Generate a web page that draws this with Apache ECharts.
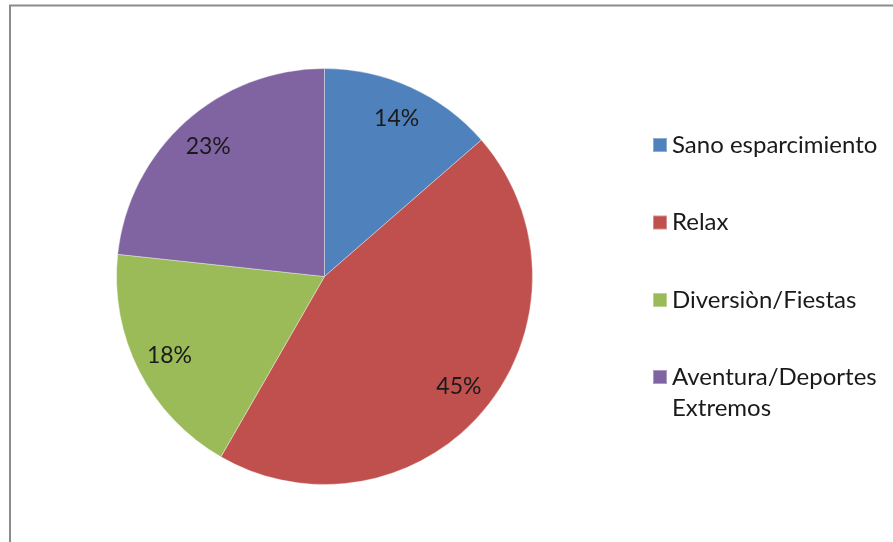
<!DOCTYPE html>
<html>
<head>
<meta charset="utf-8">
<script src="https://cdn.jsdelivr.net/npm/echarts@6/dist/echarts.min.js"></script>
<style>
html, body { margin: 0; padding: 0; background: #fff; }
#chart { width: 893px; height: 542px; }
</style>
</head>
<body>
<div id="chart"></div>
<script>
var categories = ['Sano esparcimiento', 'Relax', 'Diversiòn/Fiestas', 'Aventura/Deportes Extremos'];
// shares; labels round them to whole percents
var values = [13.6, 44.7, 18.4, 23.3];
var colors = ['#4F81BD', '#C0504D', '#9BBB59', '#8064A2'];

var pieData = categories.map(function (name, i) {
    return { name: name, value: values[i], itemStyle: { color: colors[i] } };
});
// same values, only used to carry the % labels further out than 'inside' puts them
var labelData = categories.map(function (name, i) {
    return { name: name, value: values[i] };
});

var chart = echarts.init(document.getElementById('chart'));
chart.setOption({
    animation: false,
    textStyle: { fontFamily: 'Lato' },
    graphic: [
        {
            type: 'rect',
            shape: { x: 10, y: 5.5, width: 1000, height: 700 },
            style: { fill: 'none', stroke: '#8c8c8c', lineWidth: 2 },
            silent: true
        }
    ],
    legend: [
        {
            data: categories.slice(0, 3),
            orient: 'vertical',
            left: 652,
            top: 131,
            padding: 0,
            itemWidth: 14,
            itemHeight: 14,
            itemGap: 49.5,
            icon: 'rect',
            selectedMode: false,
            textStyle: { fontFamily: 'Lato', fontSize: 24, color: '#1a1a1a', lineHeight: 28 }
        },
        {
            data: categories.slice(3),
            orient: 'vertical',
            left: 652,
            top: 330.5,
            padding: 0,
            itemWidth: 14,
            itemHeight: 14,
            icon: 'rect',
            selectedMode: false,
            formatter: function () {
                return '\nAventura/Deportes\nExtremos';
            },
            textStyle: { fontFamily: 'Lato', fontSize: 24, color: '#1a1a1a', lineHeight: 31 }
        }
    ],
    series: [
        {
            type: 'pie',
            center: [324.5, 276.5],
            radius: [0, 208],
            startAngle: 90,
            clockwise: true,
            label: { show: false },
            labelLine: { show: false },
            itemStyle: { borderColor: 'rgba(255,255,255,0.35)', borderWidth: 1 },
            emphasis: { disabled: true },
            data: pieData
        },
        {
            type: 'pie',
            center: [324.5, 276.5],
            radius: [134, 208],
            startAngle: 90,
            clockwise: true,
            silent: true,
            percentPrecision: 0,
            itemStyle: { color: 'rgba(0,0,0,0)' },
            label: {
                show: true,
                position: 'inside',
                formatter: '{d}%',
                fontFamily: 'Lato',
                fontSize: 23,
                color: '#1a1a1a'
            },
            labelLine: { show: false },
            emphasis: { disabled: true },
            data: labelData
        }
    ]
});
</script>
</body>
</html>
